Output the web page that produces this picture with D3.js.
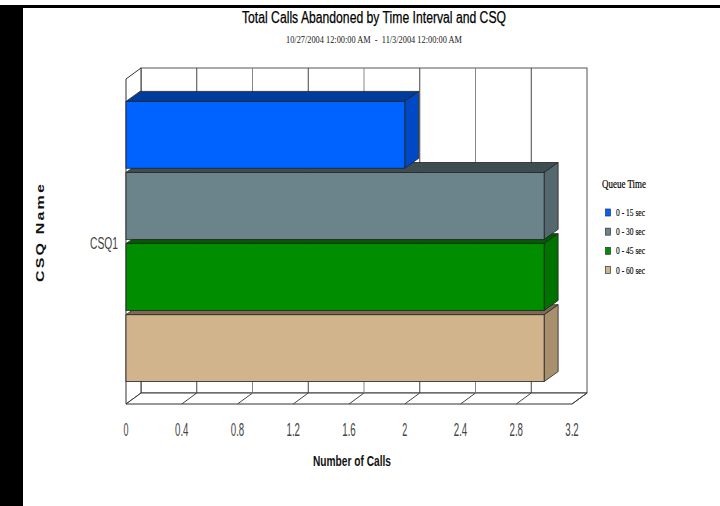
<!DOCTYPE html>
<html>
<head>
<meta charset="utf-8">
<script src="https://cdn.jsdelivr.net/npm/d3@7/dist/d3.min.js"></script>
<style>
  html, body { margin: 0; padding: 0; background: #fff; }
  svg { display: block; }
</style>
</head>
<body>
<svg id="chart" width="720" height="506"></svg>
<script>
// Abandoned calls per queue-time interval for each CSQ
const categories = ["CSQ1"];
const series = ["0 - 15 sec", "0 - 30 sec", "0 - 45 sec", "0 - 60 sec"];
const values = [2, 3, 3, 3];           // one value per series for CSQ1
const xTicks = [0, 0.4, 0.8, 1.2, 1.6, 2, 2.4, 2.8, 3.2];
const seriesColors = [
  { front: "#0062ff", top: "#003c9c", side: "#0049c6" },
  { front: "#6b848c", top: "#3e4d52", side: "#54686e" },
  { front: "#008e00", top: "#005c00", side: "#007200" },
  { front: "#d2b48c", top: "#7c6a52", side: "#a8906f" }
];

const svg = d3.select("#chart");

// frame strips along the left and top edges
svg.append("rect").attr("x", 0).attr("y", 5).attr("width", 23).attr("height", 501).attr("fill", "#000");
svg.append("rect").attr("x", 0).attr("y", 5).attr("width", 720).attr("height", 3).attr("fill", "#000");

// plot geometry (front plane) and 3D depth offset
const plotLeft = 126, plotRight = 572, plotTop = 79, plotBottom = 404;
const dx = 15, dy = -11;
const bdx = 14, bdy = -10;

const x = d3.scaleLinear().domain([0, 3.2]).range([plotLeft, plotRight]);
const y0 = d3.scaleBand().domain(categories).range([plotTop, plotBottom]).paddingInner(0).paddingOuter(0.08);
const y1 = d3.scaleBand().domain(series).range([0, y0.bandwidth()]).paddingInner(0.06).paddingOuter(0);

const wallStroke = "#555";
const g = svg.append("g");

// back wall
g.append("rect")
  .attr("x", plotLeft + dx).attr("y", plotTop + dy)
  .attr("width", plotRight - plotLeft).attr("height", plotBottom - plotTop)
  .attr("fill", "#fff").attr("stroke", wallStroke).attr("stroke-width", 1);
// left wall
g.append("polygon")
  .attr("points", [[plotLeft, plotTop], [plotLeft + dx, plotTop + dy], [plotLeft + dx, plotBottom + dy], [plotLeft, plotBottom]].join(" "))
  .attr("fill", "#fff").attr("stroke", "#333").attr("stroke-width", 1);
// floor
g.append("polygon")
  .attr("points", [[plotLeft, plotBottom], [plotLeft + dx, plotBottom + dy], [plotRight + dx, plotBottom + dy], [plotRight, plotBottom]].join(" "))
  .attr("fill", "#fff").attr("stroke", "#333").attr("stroke-width", 1);

// gridlines on the back wall and floor
g.selectAll(".grid").data(xTicks.slice(1, -1)).join("line")
  .attr("x1", d => x(d) + dx).attr("x2", d => x(d) + dx)
  .attr("y1", plotTop + dy).attr("y2", plotBottom + dy)
  .attr("stroke", (d, i) => i % 2 ? "#888" : "#444").attr("stroke-width", 1);
g.selectAll(".floorgrid").data(xTicks.slice(1)).join("line")
  .attr("x1", d => x(d)).attr("y1", plotBottom)
  .attr("x2", d => x(d) + dx).attr("y2", plotBottom + dy)
  .attr("stroke", "#444").attr("stroke-width", 1);

// bars, drawn from the lowest upward so each upper bar covers the top face below it
const bars = series.map((s, i) => ({ s, v: values[i], c: seriesColors[i], i })).reverse();
const cat = categories[0];
bars.forEach(b => {
  const yy = y0(cat) + y1(b.s);
  const h = y1.bandwidth();
  const x0 = x(0), xv = x(b.v);
  const bg = g.append("g");
  bg.append("polygon")
    .attr("points", [[x0, yy], [x0 + bdx, yy + bdy], [xv + bdx, yy + bdy], [xv, yy]].join(" "))
    .attr("fill", b.c.top).attr("stroke", "#222").attr("stroke-width", 0.8);
  bg.append("polygon")
    .attr("points", [[xv, yy], [xv + bdx, yy + bdy], [xv + bdx, yy + h + bdy], [xv, yy + h]].join(" "))
    .attr("fill", b.c.side).attr("stroke", "#222").attr("stroke-width", 0.8);
  bg.append("rect")
    .attr("x", x0).attr("y", yy).attr("width", xv - x0).attr("height", h)
    .attr("fill", b.c.front).attr("stroke", "#222").attr("stroke-width", 0.8);
});

// x axis tick labels (narrow sans)
svg.selectAll(".tick").data(xTicks).join("text")
  .attr("x", d => x(d)).attr("y", 436)
  .attr("text-anchor", "middle")
  .attr("font-family", "Liberation Sans, Arial, sans-serif")
  .attr("font-size", 19).attr("fill", "#444")
  .attr("textLength", d => String(d).length === 1 ? 5 : 13.5)
  .attr("lengthAdjust", "spacingAndGlyphs")
  .text(d => String(d));

// category label
svg.append("text")
  .attr("x", 118).attr("y", y0(cat) + y0.bandwidth() / 2 + 7)
  .attr("text-anchor", "end")
  .attr("font-family", "Liberation Sans, Arial, sans-serif")
  .attr("font-size", 16).attr("fill", "#444")
  .attr("textLength", 28).attr("lengthAdjust", "spacingAndGlyphs")
  .text(cat);

// axis titles
svg.append("text")
  .attr("x", 352).attr("y", 466)
  .attr("text-anchor", "middle")
  .attr("font-family", "Liberation Sans, Arial, sans-serif")
  .attr("font-weight", "bold").attr("font-size", 15).attr("fill", "#111")
  .attr("textLength", 78).attr("lengthAdjust", "spacingAndGlyphs")
  .text("Number of Calls");

svg.append("text")
  .attr("transform", "translate(43.5,232) rotate(-90)")
  .attr("text-anchor", "middle")
  .attr("font-family", "Liberation Sans, Arial, sans-serif")
  .attr("font-weight", "bold").attr("font-size", 11).attr("fill", "#111")
  .attr("letter-spacing", 1.5)
  .attr("textLength", 100).attr("lengthAdjust", "spacingAndGlyphs")
  .text("CSQ Name");

// titles
svg.append("text")
  .attr("x", 374).attr("y", 23)
  .attr("text-anchor", "middle")
  .attr("font-family", "Liberation Sans, Arial, sans-serif")
  .attr("font-size", 16).attr("fill", "#000")
  .attr("stroke", "#000").attr("stroke-width", 0.25)
  .attr("textLength", 264).attr("lengthAdjust", "spacingAndGlyphs")
  .text("Total Calls Abandoned by Time Interval and CSQ");

svg.append("text")
  .attr("x", 374).attr("y", 43)
  .attr("text-anchor", "middle")
  .attr("font-family", "Liberation Serif, Times New Roman, serif")
  .attr("font-size", 11).attr("fill", "#222")
  .attr("textLength", 176).attr("lengthAdjust", "spacingAndGlyphs")
  .attr("xml:space", "preserve")
  .text("10/27/2004 12:00:00 AM  -  11/3/2004 12:00:00 AM");

// legend
const lg = svg.append("g");
lg.append("text")
  .attr("x", 602).attr("y", 188)
  .attr("font-family", "Liberation Serif, Times New Roman, serif")
  .attr("font-size", 12).attr("fill", "#000")
  .attr("stroke", "#000").attr("stroke-width", 0.2)
  .attr("textLength", 44).attr("lengthAdjust", "spacingAndGlyphs")
  .text("Queue Time");

const legendY = d3.scalePoint().domain(series).range([212.5, 270]);
series.forEach((s, i) => {
  lg.append("rect")
    .attr("x", 605.5).attr("y", legendY(s) - 3.5).attr("width", 5).attr("height", 7)
    .attr("fill", seriesColors[i].front).attr("stroke", "#333").attr("stroke-width", 0.7);
  lg.append("text")
    .attr("x", 616).attr("y", legendY(s) + 3.5)
    .attr("font-family", "Liberation Serif, Times New Roman, serif")
    .attr("font-size", 11).attr("fill", "#000")
    .attr("stroke", "#000").attr("stroke-width", 0.15)
    .attr("textLength", 29).attr("lengthAdjust", "spacingAndGlyphs")
    .text(s);
});
</script>
</body>
</html>
